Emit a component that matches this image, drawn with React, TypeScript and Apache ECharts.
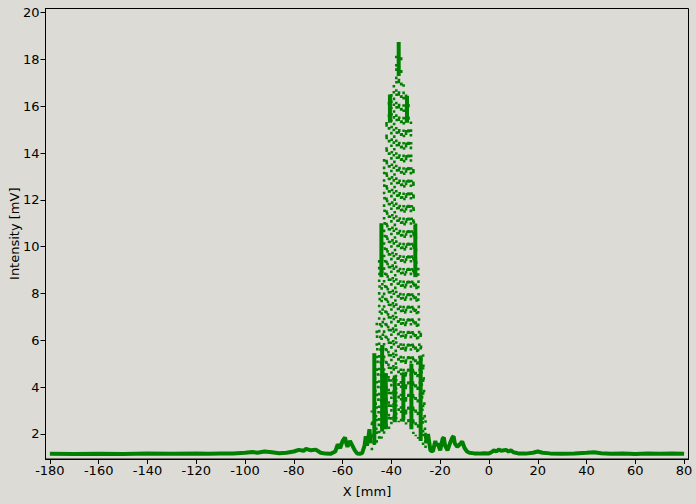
import React, { useEffect, useRef } from "react";
import * as echarts from "echarts";

// Tick values
const xTicks = [-180, -160, -140, -120, -100, -80, -60, -40, -20, 0, 20, 40, 60, 80];
const yTicks = [2, 4, 6, 8, 10, 12, 14, 16, 18, 20];

// Baseline (left of the fringe packet)
const xLeft = [-180, -170, -160, -150, -140, -130, -120, -115, -110, -105, -100, -97, -95, -92, -89, -86, -83, -80, -78, -76, -75, -73, -71, -69, -67, -65, -63, -62, -61, -60, -59, -58.5, -58, -57, -56, -55, -54, -53, -52, -51, -50.5, -50, -49.5, -49, -48.5];
const yLeft = [1.15, 1.14, 1.15, 1.14, 1.16, 1.15, 1.17, 1.15, 1.17, 1.16, 1.2, 1.23, 1.2, 1.25, 1.22, 1.18, 1.2, 1.25, 1.32, 1.28, 1.36, 1.3, 1.33, 1.2, 1.16, 1.15, 1.25, 1.55, 1.4, 1.7, 1.85, 1.6, 1.45, 1.7, 1.5, 1.3, 1.16, 1.15, 1.18, 1.5, 1.9, 1.5, 1.8, 2.2, 1.6];

// Baseline (right of the fringe packet)
const xRight = [-26, -25.5, -25, -24, -23, -22, -21.5, -21, -20, -19, -18.5, -18, -17, -16, -15, -14.5, -14, -13, -12, -11, -10, -9, -8, -6, -4, -2, 0, 1, 2, 3, 4, 5, 7, 8, 9, 10, 12, 15, 18, 20, 22, 25, 30, 35, 40, 43, 46, 50, 55, 60, 65, 70, 75, 80];
const yRight = [2.0, 1.6, 2.0, 1.3, 1.25, 1.7, 1.5, 1.6, 1.3, 1.8, 1.85, 1.5, 1.3, 1.6, 1.85, 1.9, 1.6, 1.45, 1.55, 1.68, 1.4, 1.25, 1.2, 1.17, 1.16, 1.18, 1.17, 1.22, 1.3, 1.25, 1.33, 1.28, 1.32, 1.25, 1.3, 1.22, 1.17, 1.16, 1.2, 1.25, 1.2, 1.17, 1.15, 1.17, 1.2, 1.22, 1.18, 1.15, 1.16, 1.14, 1.16, 1.15, 1.16, 1.15];

// Fringe packet: per-column upper and lower extent of the samples
const packetX = [-48, -47, -46, -45, -44, -43, -42, -41, -40, -39, -38, -37, -36, -35, -34, -33, -32, -31, -30, -29, -28, -27, -26];
const packetHi = [3.0, 5.4, 6.8, 9.5, 11.0, 13.8, 15.5, 16.4, 16.6, 17.0, 18.2, 18.7, 18.3, 17.0, 16.5, 16.3, 15.4, 13.5, 11.0, 9.2, 6.5, 5.4, 3.0];
const packetLo = [1.3, 1.5, 1.6, 1.7, 1.8, 2.0, 2.1, 2.2, 2.3, 2.4, 2.5, 2.5, 2.5, 2.5, 2.4, 2.3, 2.2, 2.0, 1.9, 1.8, 1.7, 1.5, 1.3];

// Dense streaks inside the packet: x, top, bottom
const streakX = [-37.0, -40.6, -33.6, -44.1, -30.2, -47.0, -28.0, -43.8, -42.3, -38.6, -35.1, -31.8];
const streakTop = [18.75, 16.5, 16.45, 11.0, 10.95, 5.45, 5.35, 5.8, 4.6, 4.5, 4.6, 5.0];
const streakBottom = [17.3, 15.3, 15.3, 8.7, 8.7, 1.55, 1.7, 2.1, 2.2, 2.5, 2.6, 2.2];

const GREEN = "#008000";
const FONT = "DejaVu Sans";

export default function App() {
  const ref = useRef<HTMLDivElement>(null);
  useEffect(() => {
    if (!ref.current) return;
    const chart = echarts.init(ref.current, undefined, { renderer: "svg" });

    const baseline: any[] = [];
    xLeft.forEach((x, i) => baseline.push([x, yLeft[i]]));
    baseline.push([-37, "-"]);
    xRight.forEach((x, i) => baseline.push([x, yRight[i]]));

    const zigzag: any[] = [];
    packetX.forEach((x, i) => {
      zigzag.push([x, packetLo[i]]);
      zigzag.push([x, packetHi[i]]);
    });

    const streaks = streakX.map((x, i) => [x, streakTop[i], streakBottom[i]]);

    chart.setOption({
      animation: false,
      backgroundColor: "#dcdbd6",
      grid: { left: 45.5, right: 7.5, top: 8.5, bottom: 45, containLabel: false, outerBoundsMode: "none" },
      xAxis: {
        type: "value",
        min: -181.8,
        max: 81.8,
        name: "X [mm]",
        nameLocation: "middle",
        nameGap: 26,
        nameTextStyle: { fontFamily: FONT, fontSize: 13, color: "#000" },
        axisLine: { show: true, onZero: false, lineStyle: { color: "#000", width: 1 } },
        axisTick: { show: true, length: 5, inside: false, customValues: xTicks, lineStyle: { color: "#000" } },
        axisLabel: { customValues: xTicks, fontFamily: FONT, fontSize: 13, color: "#000", margin: 5 },
        splitLine: { show: false },
      },
      yAxis: {
        type: "value",
        min: 0.93,
        max: 20.18,
        name: "Intensity [mV]",
        nameLocation: "middle",
        nameGap: 25,
        nameMoveOverlap: false,
        nameTextStyle: { fontFamily: FONT, fontSize: 13, color: "#000" },
        axisLine: { show: true, onZero: false, lineStyle: { color: "#000", width: 1 } },
        axisTick: { show: true, length: 5, inside: false, customValues: yTicks, lineStyle: { color: "#000" } },
        axisLabel: { customValues: yTicks, fontFamily: FONT, fontSize: 13, color: "#000", margin: 6 },
        splitLine: { show: false },
      },
      graphic: [
        {
          type: "rect",
          shape: { x: 45.5, y: 8.5, width: 643, height: 450.5 },
          style: { fill: "none", stroke: "#000", lineWidth: 1 },
          silent: true,
          z: 100,
        },
      ],
      series: [
        {
          type: "line",
          data: baseline,
          symbol: "none",
          connectNulls: false,
          lineStyle: { color: GREEN, width: 4 },
          clip: true,
          z: 2,
        },
        {
          type: "custom",
          data: streaks,
          encode: { x: 0, y: [1, 2] },
          clip: true,
          z: 3,
          renderItem: (params: any, api: any) => {
            const x = api.value(0);
            const p1 = api.coord([x, api.value(1)]);
            const p2 = api.coord([x, api.value(2)]);
            return {
              type: "rect",
              shape: { x: p1[0] - 2, y: p1[1], width: 4, height: p2[1] - p1[1] },
              style: { fill: GREEN },
            };
          },
        },
        {
          type: "line",
          data: zigzag,
          symbol: "none",
          lineStyle: { color: GREEN, width: 2.6, type: [2.6, 10] },
          clip: true,
          z: 4,
        },
      ],
    });
    return () => chart.dispose();
  }, []);
  return (
    <div
      ref={ref}
      style={{ position: "fixed", left: 0, top: 0, width: 696, height: 504 }}
    />
  );
}
